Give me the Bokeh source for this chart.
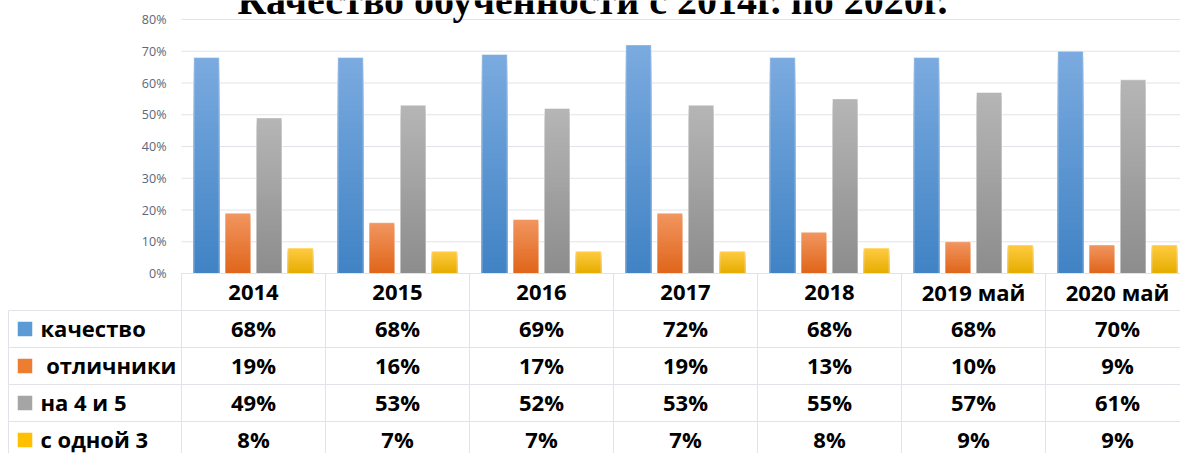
import numpy as np
from bokeh.plotting import figure
from bokeh.models import (Range1d, LinearAxis, FixedTicker, PrintfTickFormatter,
                          Label, ColumnDataSource)
from bokeh.core.properties import value
from bokeh.embed import file_html
from bokeh.resources import INLINE

# ---------------- data ----------------
title = "Качество обученности с 2014г. по 2020г."
years = ["2014", "2015", "2016", "2017", "2018", "2019 май", "2020 май"]
series_names = ["качество", "\u00a0отличники", "на 4 и 5", "с одной 3"]
kachestvo = [68, 68, 69, 72, 68, 68, 70]
otlichniki = [19, 16, 17, 19, 13, 10, 9]
na_4_i_5 = [49, 53, 52, 53, 55, 57, 61]
s_odnoy_3 = [8, 7, 7, 7, 8, 9, 9]
y_ticks = [0, 10, 20, 30, 40, 50, 60, 70, 80]

series_values = [kachestvo, otlichniki, na_4_i_5, s_odnoy_3]

# ---------------- styles ----------------
top_colors = ["#7aaadf", "#f1955f", "#b5b5b5", "#ffcb42"]
bottom_colors = ["#4183c5", "#e0661b", "#8d8d8d", "#e5ad00"]
swatch_colors = ["#5b9bd5", "#ed7d31", "#a5a5a5", "#ffc000"]
grid_color = "#e2e3e9"
FONT = "Open Sans"

# ---------------- layout (pixels) ----------------
W, H = 1180, 453
COL = 144.0          # width of one category column
X0 = 181.0           # left edge of first category column
Y0 = 273.0           # pixel row of 0 %
PX_PER_PCT = 254.0 / 80.0
ROW = 37.0           # table row height
LABEL_LEFT = 8.0

x_end = (W - X0) / COL
p = figure(width=W, height=H,
           x_range=Range1d(-X0 / COL, x_end),
           y_range=Range1d(-(H - Y0) / PX_PER_PCT, Y0 / PX_PER_PCT),
           output_backend="svg", toolbar_location=None,
           x_axis_type=None, y_axis_type=None,
           min_border=0, outline_line_color=None,
           background_fill_color="white", border_fill_color="white")
p.extra_y_ranges = {"table": Range1d(start=(H - Y0) / ROW, end=-Y0 / ROW)}

# gridlines (drawn from tick values, across the category columns)
p.segment(x0=[0] * len(y_ticks), x1=[x_end] * len(y_ticks),
          y0=y_ticks, y1=y_ticks, line_color=grid_color, line_width=1)

# y axis at the left edge of the plot area
yaxis = LinearAxis(fixed_location=0,
                   ticker=FixedTicker(ticks=y_ticks),
                   formatter=PrintfTickFormatter(format="%d%%"),
                   axis_line_color=None, major_tick_line_color=None,
                   minor_tick_line_color=None,
                   major_tick_in=0, major_tick_out=0,
                   major_label_standoff=15,
                   major_label_text_font=FONT,
                   major_label_text_font_size="12.5px",
                   major_label_text_color="#5d6678")
p.add_layout(yaxis, "left")

# ---------------- bars with vertical gradient ----------------
def hex2rgb(h):
    h = h.lstrip("#")
    return np.array([int(h[i:i + 2], 16) for i in (0, 2, 4)], dtype=float)

def rgb2hex(c):
    return "#%02x%02x%02x" % tuple(int(round(v)) for v in c)

bar_w = 0.176
step = 0.2174
offsets = [(-1.5 + i) * step for i in range(4)]
N = 40
xs, tops, cols = [], [], []
for k in range(N):
    frac = k / N
    t = k / (N - 1)
    for s, vals in enumerate(series_values):
        c = rgb2hex(hex2rgb(top_colors[s]) * (1 - t) + hex2rgb(bottom_colors[s]) * t)
        for i, v in enumerate(vals):
            xs.append(i + 0.5 + offsets[s])
            tops.append(v * (1 - frac))
            cols.append(c)
p.vbar(x="x", top="top", bottom=0, width=bar_w, fill_color="c", line_color=None,
       source=ColumnDataSource(dict(x=xs, top=tops, c=cols)))

ox, ot = [], []
for s, vals in enumerate(series_values):
    for i, v in enumerate(vals):
        ox.append(i + 0.5 + offsets[s])
        ot.append(v)
p.vbar(x=ox, top=ot, bottom=0, width=bar_w, fill_color=None,
       line_color="white", line_alpha=0.45, line_width=1)

# ---------------- data table ----------------
n = len(years)
lx = -(X0 - LABEL_LEFT) / COL
# horizontal lines
p.segment(x0=[0], x1=[x_end], y0=[0], y1=[0], y_range_name="table",
          line_color=grid_color, line_width=1)
p.segment(x0=[lx] * 4, x1=[x_end] * 4, y0=[1, 2, 3, 4], y1=[1, 2, 3, 4],
          y_range_name="table", line_color=grid_color, line_width=1)
# vertical lines
p.segment(x0=list(range(n + 1)), x1=list(range(n + 1)), y0=[0] * (n + 1),
          y1=[6] * (n + 1), y_range_name="table", line_color=grid_color, line_width=1)
p.segment(x0=[lx], x1=[lx], y0=[1], y1=[6], y_range_name="table",
          line_color=grid_color, line_width=1)

# header (years)
p.text(x=[i + 0.5 for i in range(n)], y=[0.5] * n, text=years,
       y_range_name="table", text_align="center", text_baseline="middle",
       text_font=value(FONT), text_font_style="bold", text_font_size="22px",
       text_color="black")

# series rows
for s, vals in enumerate(series_values):
    p.text(x=[i + 0.5 for i in range(n)], y=[s + 1.5] * n,
           text=["%d%%" % v for v in vals],
           y_range_name="table", text_align="center", text_baseline="middle",
           text_font=value(FONT), text_font_style="bold", text_font_size="22px",
           text_color="black", y_offset=-1)

sw_x = -(X0 - 24.5) / COL
p.rect(x=[sw_x] * 4, y=[s + 1.5 for s in range(4)], width=14.5, height=14.5,
       width_units="screen", height_units="screen", y_range_name="table",
       fill_color=swatch_colors, line_color=None)
p.text(x=[-(X0 - 40) / COL] * 4, y=[s + 1.5 for s in range(4)], text=series_names,
       y_range_name="table", text_align="left", text_baseline="middle",
       text_font=value(FONT), text_font_style="bold", text_font_size="22px",
       text_color="black", y_offset=-1)

# title (cropped at the top like the original)
p.add_layout(Label(x=592, y=H, x_units="screen", y_units="screen",
                   text=title, text_align="center", text_baseline="alphabetic",
                   text_font="Liberation Serif", text_font_style="bold",
                   text_font_size="40px", text_color="black"))

open("out.html", "w").write(file_html(p, INLINE))
